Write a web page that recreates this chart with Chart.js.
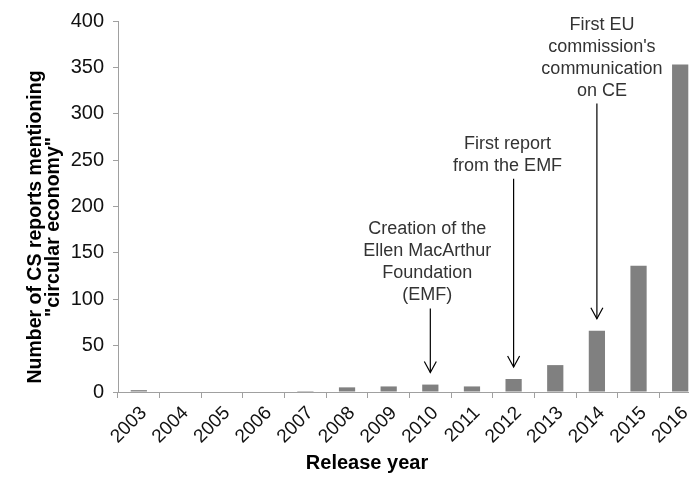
<!DOCTYPE html>
<html>
<head>
<meta charset="utf-8">
<script src="https://cdn.jsdelivr.net/npm/chart.js@4/dist/chart.umd.min.js"></script>
<style>
  html, body { margin: 0; padding: 0; background: #fff; overflow: hidden; }
  #wrap { width: 689px; height: 492px; overflow: hidden; }
</style>
</head>
<body>
<div id="wrap"><canvas id="chart" width="705" height="492"></canvas></div>
<script>
// Chart data
const years = ['2003', '2004', '2005', '2006', '2007', '2008', '2009',
               '2010', '2011', '2012', '2013', '2014', '2015', '2016'];
const reportCounts = [2, 0, 0, 0, 1, 5, 6, 8, 6, 14, 29, 66, 136, 353];
const yMin = 0;
const yMax = 400;
const yStep = 50;

// Annotations: which year the arrow points at, its text, and where the arrow starts (data units)
const noteYears = ['2010', '2012', '2014'];
const noteTexts = [
    ['Creation of the', 'Ellen MacArthur', 'Foundation', '(EMF)'],
    ['First report', 'from the EMF'],
    ['First EU', "commission's", 'communication', 'on CE']
];
const noteArrowTops = [90, 230, 311];
const noteTextShift = [-3, -6, 5]; // small horizontal nudge of text block, px

const yTitleLines = ['Number of CS reports mentioning', '"circular economy"'];
const xTitle = 'Release year';

const FONT = '"Liberation Sans", Arial, sans-serif';
const axisGray = '#a0a0a0';

// Draws annotations and axis titles on top of the chart
const annotationPlugin = {
    id: 'notes',
    afterDraw(chart) {
        const ctx = chart.ctx;
        const x = chart.scales.x;
        const y = chart.scales.y;
        ctx.save();

        noteYears.forEach((yr, i) => {
            const idx = years.indexOf(yr);
            const px = x.getPixelForValue(idx);
            const top = y.getPixelForValue(noteArrowTops[i]);
            const tip = y.getPixelForValue(reportCounts[idx]) - 12;

            // arrow shaft
            ctx.strokeStyle = '#000';
            ctx.lineWidth = 1.2;
            ctx.beginPath();
            ctx.moveTo(px, top);
            ctx.lineTo(px, tip);
            ctx.stroke();
            // arrow head (open V)
            ctx.beginPath();
            ctx.moveTo(px - 6, tip - 11);
            ctx.lineTo(px, tip);
            ctx.lineTo(px + 6, tip - 11);
            ctx.stroke();

            // text block above the arrow
            const lines = noteTexts[i];
            const lh = 22;
            ctx.fillStyle = '#333';
            ctx.font = '18px ' + FONT;
            ctx.textAlign = 'center';
            ctx.textBaseline = 'middle';
            lines.forEach((ln, j) => {
                const cy = top - 13 - (lines.length - 1 - j) * lh;
                ctx.fillText(ln, px + noteTextShift[i], cy);
            });
        });

        // x axis title
        ctx.fillStyle = '#000';
        ctx.font = 'bold 20px ' + FONT;
        ctx.textAlign = 'center';
        ctx.textBaseline = 'middle';
        ctx.fillText(xTitle, 367, 463);

        // y axis title (rotated, two lines)
        ctx.translate(45, 227);
        ctx.rotate(-Math.PI / 2);
        ctx.font = 'bold 19.5px ' + FONT;
        ctx.fillText(yTitleLines[0], 0, -9);
        ctx.fillText(yTitleLines[1], 0, 9);

        ctx.restore();
    }
};

const ctx = document.getElementById('chart').getContext('2d');
new Chart(ctx, {
    type: 'bar',
    data: {
        labels: years,
        datasets: [{
            data: reportCounts,
            backgroundColor: '#808080',
            borderWidth: 0,
            categoryPercentage: 1,
            barPercentage: 0.39
        }]
    },
    options: {
        responsive: false,
        animation: false,
        devicePixelRatio: 1,
        layout: { padding: { top: 20, right: 4, bottom: 0, left: 0 } },
        plugins: {
            legend: { display: false },
            tooltip: { enabled: false }
        },
        scales: {
            x: {
                grid: {
                    drawOnChartArea: false,
                    drawTicks: true,
                    tickLength: 6,
                    color: axisGray,
                    offset: true
                },
                border: { color: axisGray, width: 1 },
                ticks: {
                    color: '#111',
                    font: { family: FONT, size: 19 },
                    minRotation: 45,
                    maxRotation: 45,
                    autoSkip: false,
                    padding: 4,
                    labelOffset: 5
                },
                afterFit(scale) { scale.height = 100; }
            },
            y: {
                min: yMin,
                max: yMax,
                grid: {
                    drawOnChartArea: false,
                    drawTicks: true,
                    tickLength: 5,
                    color: axisGray
                },
                border: { color: axisGray, width: 1 },
                ticks: {
                    stepSize: yStep,
                    color: '#111',
                    font: { family: FONT, size: 20 },
                    padding: 9
                },
                afterFit(scale) { scale.width = 118; }
            }
        }
    },
    plugins: [annotationPlugin]
});
</script>
</body>
</html>
